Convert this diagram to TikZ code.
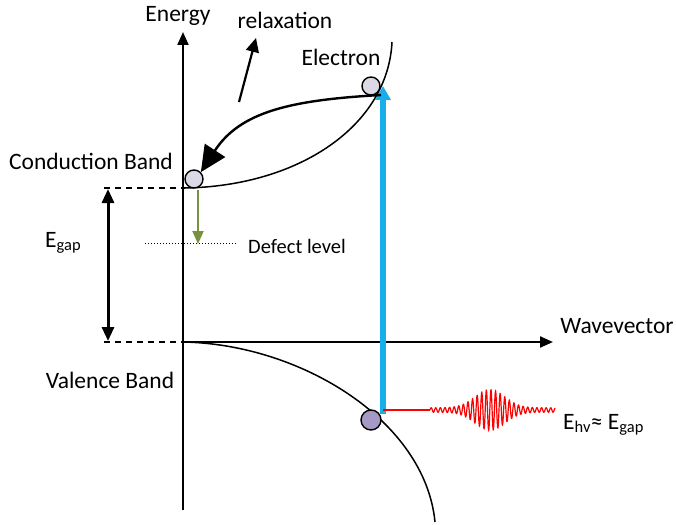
\documentclass[tikz,border=0pt]{standalone}
\usepackage{fontspec}
\setmainfont{Carlito}
\usetikzlibrary{arrows.meta}
\definecolor{lightdot}{HTML}{DCD8E6}
\definecolor{darkdot}{HTML}{A699C6}
\definecolor{photon}{HTML}{18AEEA}
\definecolor{olive}{HTML}{76923C}
\tikzset{
  lbl/.style={font=\fontsize{23.5}{26}\selectfont, inner sep=0pt},
  dot/.style={circle, draw=black, line width=1.4pt, minimum size=18pt, inner sep=0pt},
  axis/.style={line width=2.2pt, -{Triangle[length=13pt,width=11pt]}},
  guide/.style={dashed, line width=1.1pt, dash pattern=on 6pt off 5pt},
}
\begin{document}
\begin{tikzpicture}[x=1pt,y=-1pt]
\useasboundingbox (0,0) rectangle (676,524);
% coordinates
\coordinate (o) at (183,342);
\coordinate (ytop) at (183,32);
\coordinate (ybot) at (183,510);
\coordinate (xend) at (553,342);
\coordinate (cbmin) at (185,188);
\coordinate (cbtop) at (392,42);
\coordinate (vbend) at (435,522);
% axes
\draw[axis] (ybot) -- (ytop);
\draw[axis] (o) -- (xend);
\node[lbl] (energy) at (178,16) {Energy};
\node[lbl] (wave) at (617,326) {Wavevector};
% guides
\coordinate (g1a) at (104,188);
\coordinate (g2a) at (104,342);
\draw[guide] (g1a) -- (cbmin);
\draw[guide] (g2a) -- (o);
% bands
\draw[line width=1.5pt] (cbmin) .. controls (300,186) and (388,125) .. (cbtop);
\draw[line width=1.5pt] (o) .. controls (300,344) and (425,420) .. (vbend);
\node[lbl] (cb) at (91,161) {Conduction Band};
\node[lbl] (vb) at (110,380) {Valence Band};
% gap arrow
\coordinate (gt) at (108,189);
\coordinate (gb) at (108,341);
\draw[line width=3pt, {Triangle[length=14pt,width=12pt]}-{Triangle[length=14pt,width=12pt]}] (gt) -- (gb);
\node[lbl, anchor=west] (egap) at (45,243) {E\textsubscript{gap}};
% defect level
\coordinate (d1) at (145,243);
\coordinate (d2) at (237,243);
\draw[dotted, line width=1pt] (d1) -- (d2);
\node[font=\fontsize{20.5}{22}\selectfont, inner sep=0pt] (defect) at (297,246) {Defect level};
\coordinate (ga) at (198,190);
\coordinate (gz) at (198,244);
\draw[olive, line width=1.8pt, -{Triangle[length=13pt,width=11pt]}] (ga) -- (gz);
% photon absorption
\coordinate (pb) at (383,414);
\coordinate (pt) at (383,86);
\draw[photon, line width=5.5pt, -{Triangle[length=14pt,width=15pt]}] (pb) -- (pt);
% electrons
\node[dot, fill=lightdot] (e1) at (371,86) {};
\node[dot, fill=lightdot] (e2) at (194,179) {};
\node[dot, fill=darkdot, minimum size=20pt] (h) at (371,420) {};
\node[lbl] (elec) at (341,57) {Electron};
% relaxation
\draw[line width=2.4pt, -{Triangle[length=26pt,width=24pt]}] (381,95) .. controls (290,100) and (240,112) .. (e2.north east);
\coordinate (r1) at (239,102);
\coordinate (r2) at (256,38);
\draw[line width=2.2pt, -{Triangle[length=14pt,width=13pt]}] (r1) -- (r2);
\node[lbl] (relax) at (285,20) {relaxation};
% emission
\coordinate (em0) at (383,410);
\coordinate (em1) at (430,410);
\draw[red, line width=1.5pt] (em0) -- (em1);
\draw[red, line width=1.2pt, domain=430:555, samples=800, smooth]
  plot (\x, {410 - (2.2 + 18*exp(-((\x-490)/21)^2))*sin(((\x-430)/4.6)*360)});
\node[lbl, anchor=west] (ehv) at (563,425) {E\textsubscript{hv}≈ E\textsubscript{gap}};
\end{tikzpicture}
\end{document}
